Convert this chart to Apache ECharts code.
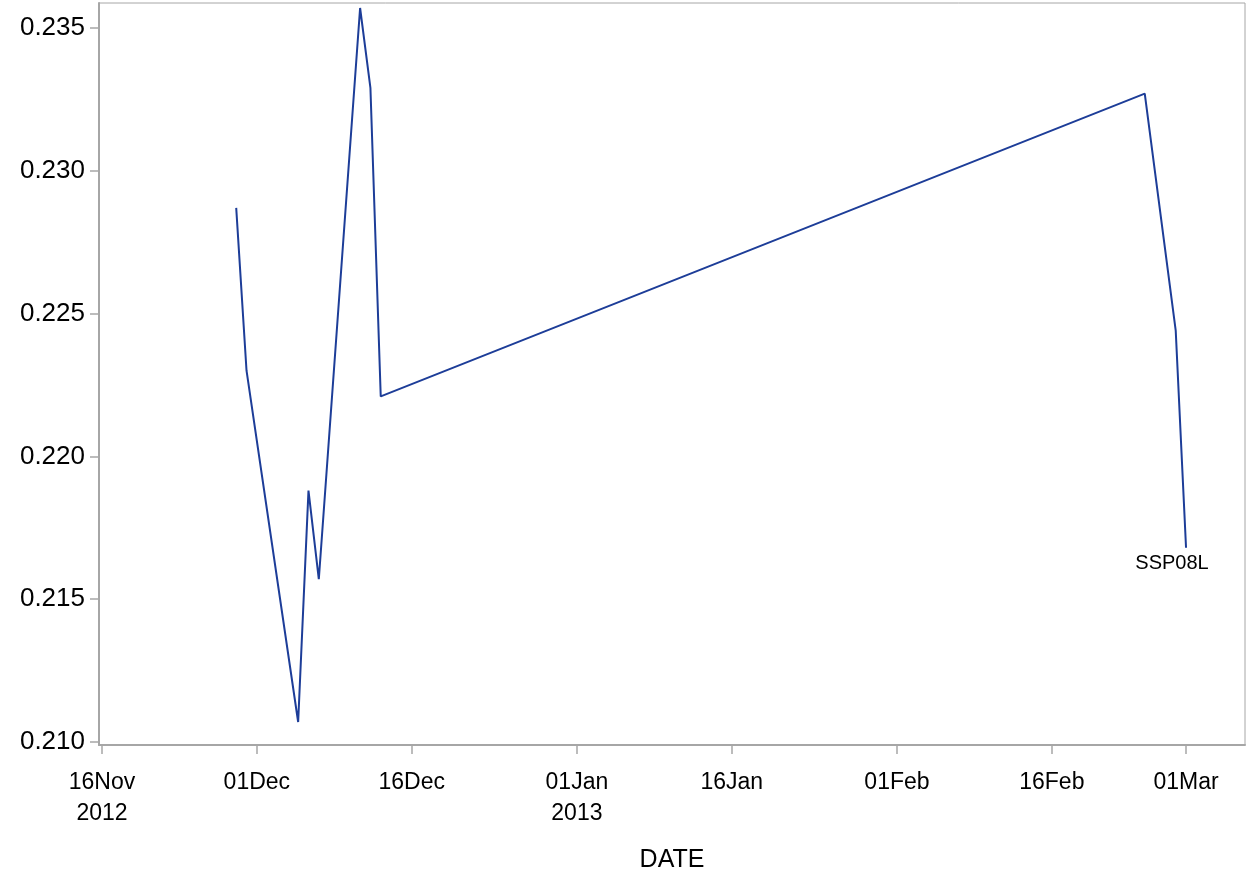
<!DOCTYPE html>
<html>
<head>
<meta charset="utf-8">
<script src="https://cdn.jsdelivr.net/npm/echarts@6/dist/echarts.min.js"></script>
<style>
html,body{margin:0;padding:0;background:#fff;}
#chart{width:1250px;height:877px;}
</style>
</head>
<body>
<div id="chart"></div>
<script>
// ---- data ----
const seriesName = 'SSP08L';
const dates = ['2012-11-29','2012-11-30','2012-12-05','2012-12-06','2012-12-07','2012-12-11','2012-12-12','2012-12-13','2013-02-25','2013-02-28','2013-03-01'];
const values = [0.2287,0.2230,0.2107,0.2188,0.2157,0.2357,0.2329,0.2221,0.2327,0.2244,0.2168];
const xTickDates = ['2012-11-16','2012-12-01','2012-12-16','2013-01-01','2013-01-16','2013-02-01','2013-02-16','2013-03-01'];
const xTickLabels = ['16Nov\n2012','01Dec','16Dec','01Jan\n2013','16Jan','01Feb','16Feb','01Mar'];
const yTicks = [0.210,0.215,0.220,0.225,0.230,0.235];
const xTitle = 'DATE';

// ---- helpers ----
const DAY = 86400000;
function ts(s){ const p = s.split('-').map(Number); return Date.UTC(p[0], p[1]-1, p[2]); }
const xTickTs = xTickDates.map(ts);
const points = dates.map((d,i) => [ts(d), values[i]]);

const gray = '#A6A6A6';
const chart = echarts.init(document.getElementById('chart'), null, { renderer: 'canvas' });
chart.setOption({
  animation: false,
  backgroundColor: '#fff',
  grid: { left: 99, right: 5, top: 3, bottom: 132, show: true, borderColor: gray, borderWidth: 1,
          containLabel: false, outerBoundsMode: 'none' },
  xAxis: {
    type: 'value',
    min: xTickTs[0] - 0.29 * DAY,
    max: xTickTs[xTickTs.length - 1] + 5.71 * DAY,
    splitLine: { show: false },
    axisLine: { show: true, onZero: false, lineStyle: { color: gray, width: 2 } },
    axisTick: { show: true, length: 9, lineStyle: { color: gray, width: 1.5 }, customValues: xTickTs },
    axisLabel: {
      customValues: xTickTs,
      formatter: v => { const i = xTickTs.indexOf(v); return i >= 0 ? xTickLabels[i] : ''; },
      fontFamily: 'Liberation Sans', fontSize: 23, color: '#000', margin: 22, lineHeight: 31
    },
    name: xTitle, nameLocation: 'middle', nameGap: 103,
    nameTextStyle: { fontFamily: 'Liberation Sans', fontSize: 25, color: '#000' }
  },
  yAxis: {
    type: 'value',
    min: 0.209895,
    max: 0.235875,
    splitLine: { show: false },
    axisLine: { show: true, onZero: false, lineStyle: { color: gray, width: 2 } },
    axisTick: { show: true, length: 9, lineStyle: { color: gray, width: 1.5 }, customValues: yTicks },
    axisLabel: {
      customValues: yTicks,
      formatter: v => v.toFixed(3),
      fontFamily: 'Liberation Sans', fontSize: 26, color: '#000', margin: 14
    }
  },
  series: [{
    name: seriesName,
    type: 'line',
    data: points,
    showSymbol: false,
    symbol: 'none',
    lineStyle: { color: '#1D3D98', width: 2 },
    itemStyle: { color: '#1D3D98' },
    endLabel: {
      show: true, formatter: seriesName, align: 'center', verticalAlign: 'top',
      distance: 0, offset: [-14, 6],
      fontFamily: 'Liberation Sans', fontSize: 20, color: '#000'
    }
  }]
});
</script>
</body>
</html>
